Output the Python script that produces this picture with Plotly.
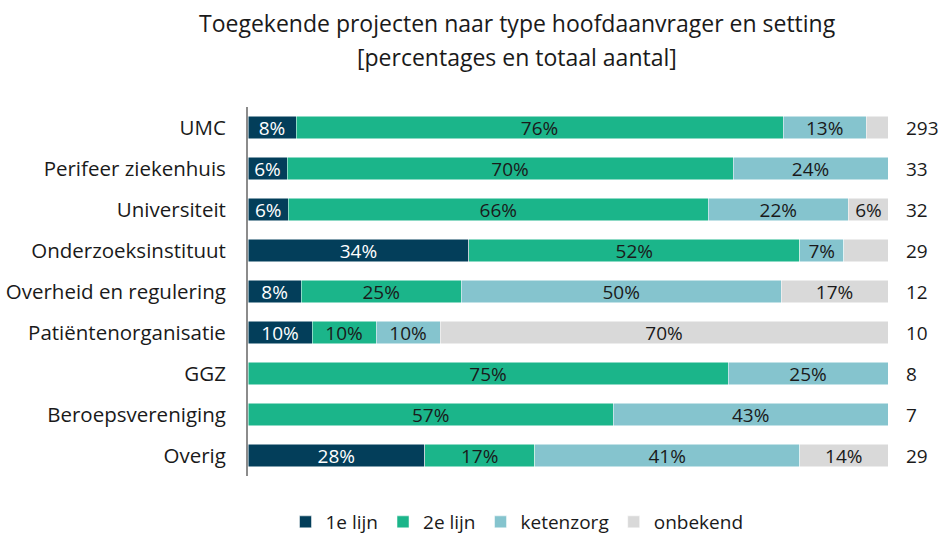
import plotly.graph_objects as go

categories = [
    "UMC",
    "Perifeer ziekenhuis",
    "Universiteit",
    "Onderzoeksinstituut",
    "Overheid en regulering",
    "Patiëntenorganisatie",
    "GGZ",
    "Beroepsvereniging",
    "Overig",
]
totals = [293, 33, 32, 29, 12, 10, 8, 7, 29]

# percentages per setting
lijn1 = [7.5, 6.1, 6.3, 34.5, 8.3, 10.0, 0.0, 0.0, 27.6]
lijn2 = [76.1, 69.7, 65.6, 51.7, 25.0, 10.0, 75.0, 57.1, 17.2]
ketenzorg = [13.0, 24.2, 21.9, 6.9, 50.0, 10.0, 25.0, 42.9, 41.4]
onbekend = [3.4, 0.0, 6.3, 6.9, 16.7, 70.0, 0.0, 0.0, 13.8]

# which onbekend labels are printed in the original
onbekend_shown = [False, False, True, False, True, True, False, False, True]

series = [
    ("1e lijn", lijn1, "#033e5a", "white"),
    ("2e lijn", lijn2, "#1bb58a", "#1a1a1a"),
    ("ketenzorg", ketenzorg, "#85c4ce", "#1a1a1a"),
    ("onbekend", onbekend, "#d9d9d9", "#1a1a1a"),
]

FONT = "'Open Sans', sans-serif"
W, H = 942, 536
plot_left, plot_right = 248, 888
plot_top, plot_bottom = 107, 476

fig = go.Figure()
for name, vals, color, txtcolor in series:
    labels = []
    for i, v in enumerate(vals):
        if v <= 0 or (name == "onbekend" and not onbekend_shown[i]):
            labels.append("")
        else:
            labels.append(f"{round(v)}%")
    fig.add_trace(go.Bar(
        name=name,
        y=categories,
        x=vals,
        orientation="h",
        marker=dict(color=color, line=dict(color="white", width=0.5)),
        text=labels,
        textposition="inside",
        insidetextanchor="middle",
        textangle=0,
        textfont=dict(color=txtcolor, size=19, family=FONT),
        hoverinfo="x+y+name",
    ))

for cat, tot in zip(categories, totals):
    fig.add_annotation(
        x=1.0, xref="paper", xshift=16, xanchor="left",
        y=cat, yref="y",
        text=str(tot), showarrow=False,
        font=dict(size=19, color="#1a1a1a", family=FONT),
    )

title_lines = [
    ("Toegekende projecten naar type hoofdaanvrager en setting", 23),
    ("[percentages en totaal aantal]", 57),
]
for txt, ypix in title_lines:
    fig.add_annotation(
        x=(517 - plot_left) / (plot_right - plot_left), xref="paper",
        y=(plot_bottom - ypix) / (plot_bottom - plot_top), yref="paper",
        xanchor="center", yanchor="middle",
        text=txt, showarrow=False,
        font=dict(size=23, color="#1a1a1a", family=FONT),
    )

fig.update_layout(
    barmode="stack",
    bargap=0.44,
    width=W,
    height=H,
    paper_bgcolor="white",
    plot_bgcolor="white",
    font=dict(family=FONT, size=19, color="#1a1a1a"),
    margin=dict(l=plot_left, r=W - plot_right, t=plot_top, b=H - plot_bottom),
    uniformtext=dict(minsize=19, mode="show"),
    xaxis=dict(range=[0, 100], visible=False, fixedrange=True),
    yaxis=dict(
        autorange="reversed",
        showline=True,
        linecolor="#8c8c8c",
        linewidth=2,
        ticks="",
        ticklabelstandoff=16,
        tickfont=dict(size=20.5, color="#1a1a1a", family=FONT),
        showgrid=False,
        automargin=False,
    ),
    legend=dict(
        orientation="h",
        x=(517 - plot_left) / (plot_right - plot_left),
        xanchor="center",
        yref="container",
        y=(H - 522) / H,
        yanchor="middle",
        font=dict(size=19, color="#1a1a1a", family=FONT),
        itemwidth=30,
        traceorder="normal",
    ),
    showlegend=True,
)

fig.write_html(
    "out.html",
    config={"displayModeBar": False},
    post_script="document.body.style.margin='0';",
)
